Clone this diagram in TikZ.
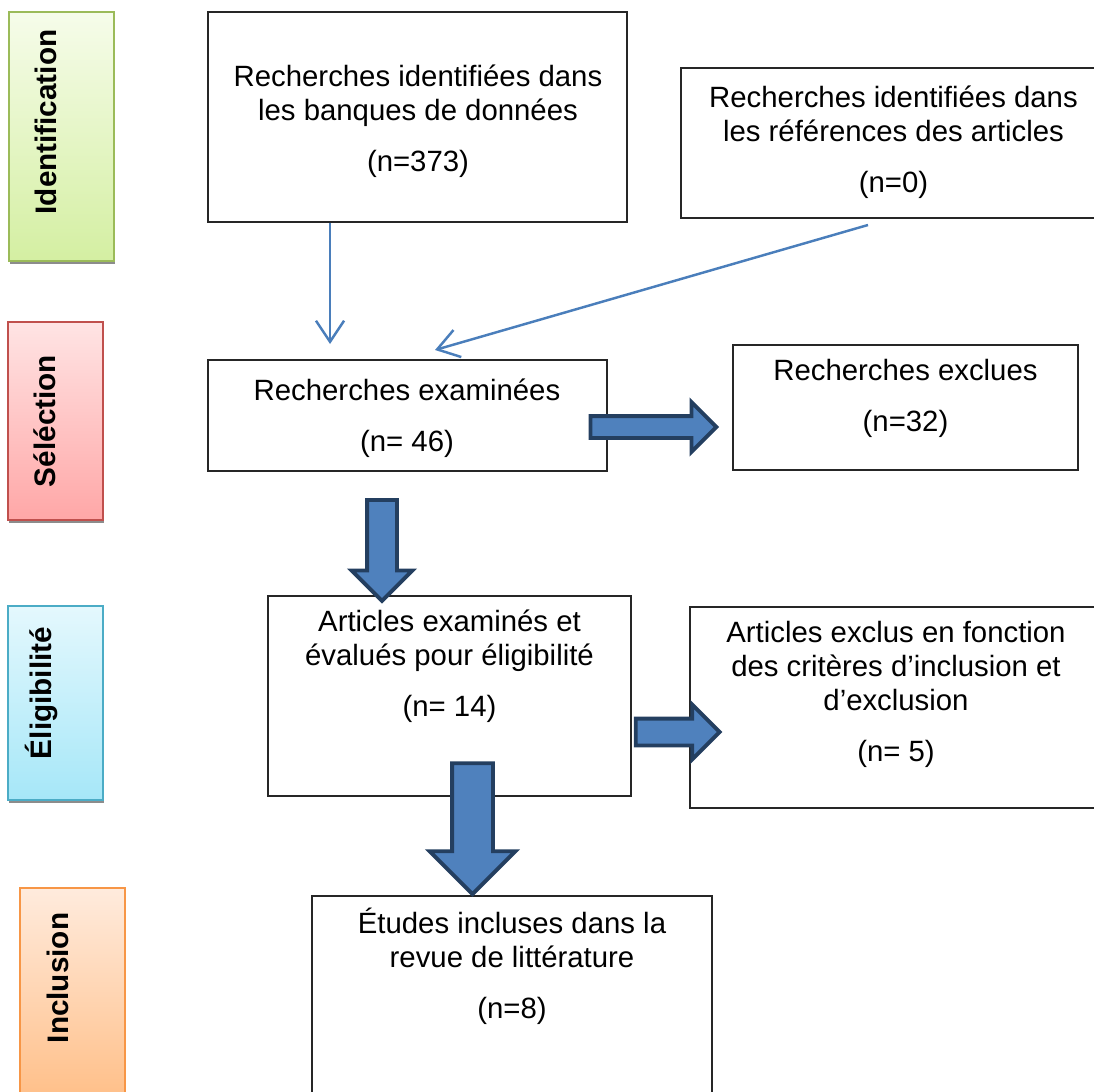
\documentclass[tikz,border=0pt]{standalone}
\usepackage{fontspec}
\usepackage{graphicx}
\setmainfont{Liberation Sans}
\usetikzlibrary{shapes.arrows,arrows.meta,shadows}

\definecolor{flowblue}{HTML}{4A7EBB}
\definecolor{arrowfill}{HTML}{4F81BD}
\definecolor{arrowedge}{HTML}{243F60}
\definecolor{identline}{HTML}{9BBB59}
\definecolor{identtop}{HTML}{F6FCEA}
\definecolor{identbot}{HTML}{D4EFA2}
\definecolor{selline}{HTML}{C0504D}
\definecolor{seltop}{HTML}{FFE4E4}
\definecolor{selbot}{HTML}{FFA7A7}
\definecolor{eligline}{HTML}{4BACC6}
\definecolor{eligtop}{HTML}{E4F8FD}
\definecolor{eligbot}{HTML}{A6E7F8}
\definecolor{inclline}{HTML}{F79646}
\definecolor{incltop}{HTML}{FFEBDD}
\definecolor{inclbot}{HTML}{FFBF88}

\begin{document}
\begin{tikzpicture}[
    x=0.02cm, y=-0.02cm,
    every node/.style={font=\fontsize{16.7}{19.3}\selectfont},
    box/.style={
        draw=black!85,
        line width=0.8pt,
        inner sep=0pt
    },
    txt/.style={
        align=center,
        inner sep=0pt,
        anchor=north
    },
    phase/.style n args={3}{
        draw=#1,
        line width=1.1pt,
        top color=#2,
        bottom color=#3,
        inner sep=0pt,
        font=\fontsize{16.9}{19.3}\selectfont\bfseries,
        drop shadow={shadow xshift=0.5pt, shadow yshift=-1.8pt, fill=black!45, opacity=1}
    },
    flow/.style={
        draw=flowblue,
        line width=1.4pt,
        -{Straight Barb[length=12pt,width=16pt]}
    },
    bigarrow/.style={
        single arrow,
        draw=arrowedge,
        fill=arrowfill,
        line width=2.2pt,
        inner xsep=0pt,
        single arrow head indent=0pt
    }
]

\clip (0,0) rectangle (1094,1091);

% Phases on the left
\node[phase={identline}{identtop}{identbot}, minimum width=2.1cm, minimum height=4.98cm] (ident) at (61.5,136.5)
    {\rotatebox{90}{\hspace*{0.58cm}Identification}\hspace{0.64cm}\mbox{}};
\node[phase={selline}{seltop}{selbot}, minimum width=1.9cm, minimum height=3.96cm] (select) at (55.5,421)
    {\rotatebox{90}{Séléction}\hspace{0.44cm}\mbox{}};
\node[phase={eligline}{eligtop}{eligbot}, minimum width=1.9cm, minimum height=3.88cm] (eligib) at (55.5,703)
    {\rotatebox{90}{\hspace*{0.4cm}Éligibilité}\hspace{0.58cm}\mbox{}};
\node[phase={inclline}{incltop}{inclbot}, minimum width=2.1cm, minimum height=4.24cm] (incl) at (72.5,994)
    {\rotatebox{90}{\hspace*{0.64cm}Inclusion}\hspace{0.6cm}\mbox{}};

% Boxes
\node[box, minimum width=8.38cm, minimum height=4.2cm] (banques) at (417.5,117) {};
\node[box, minimum width=8.5cm, minimum height=3.0cm] (refs) at (893.5,143) {};
\node[box, minimum width=7.98cm, minimum height=2.22cm] (examin) at (407.5,415.5) {};
\node[box, minimum width=6.9cm, minimum height=2.5cm] (exclues) at (905.5,407.5) {};
\node[box, minimum width=7.26cm, minimum height=4.0cm] (eval) at (449.5,696) {};
\node[box, minimum width=8.24cm, minimum height=4.02cm] (exclus) at (896,707.5) {};
\node[box, minimum width=8.0cm, minimum height=4.08cm] (incluses) at (512,998) {};

% Texts
\node[txt] (banquestxt) at (418,65) {Recherches identifiées dans\\les banques de données\\[0.34cm](n=373)};
\node[txt] (refstxt) at (893.5,86) {Recherches identifiées dans\\les références des articles\\[0.34cm](n=0)};
\node[txt] (examintxt) at (407,379) {Recherches examinées\\[0.34cm](n= 46)};
\node[txt] (exclueststxt) at (905.5,359) {Recherches exclues\\[0.34cm](n=32)};
\node[txt] (evaltxt) at (449.5,610) {Articles examinés et\\évalués pour éligibilité\\[0.34cm](n= 14)};
\node[txt] (exclustxt) at (896,621) {Articles exclus en fonction\\des critères d’inclusion et\\d’exclusion\\[0.34cm](n= 5)};
\node[txt] (inclusestxt) at (512,908) {Études incluses dans la\\revue de littérature\\[0.34cm](n=8)};

% Thin arrows
\coordinate (tip1) at (330,344);
\coordinate (start2) at (868,225);
\coordinate (tip2) at (435,350);
\draw[flow] (banques.south -| tip1) -- (tip1);
\draw[flow] (start2) -- (tip2);

% Block arrows
\node[bigarrow, rotate=-90, minimum height=2.02cm, inner ysep=0.26cm, single arrow head extend=0.31cm] (downA) at (382,543) {};
\node[bigarrow, minimum height=2.52cm, inner ysep=0.18cm, single arrow head extend=0.28cm] (rightA) at (648,427) {};
\node[bigarrow, minimum height=1.68cm, inner ysep=0.23cm, single arrow head extend=0.28cm] (rightB) at (671,732) {};
\node[bigarrow, rotate=-90, minimum height=2.62cm, inner ysep=0.37cm, single arrow head extend=0.45cm] (downB) at (472.5,818.5) {};

\end{tikzpicture}
\end{document}
